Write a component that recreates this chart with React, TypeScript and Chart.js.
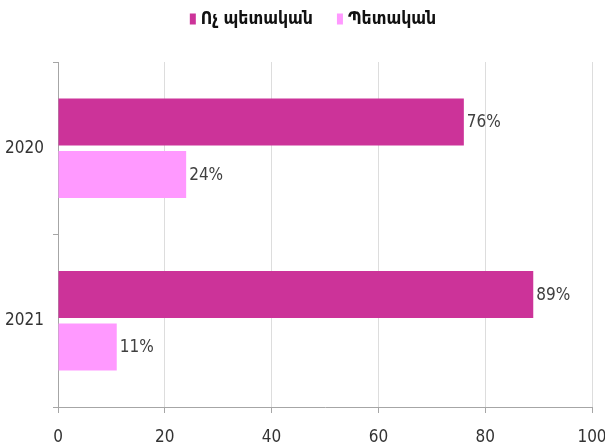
import React, { useEffect, useRef } from "react";
import { Chart, registerables } from "chart.js";

Chart.register(...registerables);

const categories = ["2020", "2021"];
const seriesNames = ["Ոչ պետական", "Պետական"];
const privateValues = [76, 89];
const publicValues = [24, 11];
const xTicks = [0, 20, 40, 60, 80, 100];
const colors = ["#CC3399", "#FF99FF"];

const NUM_FONT = '"Liberation Sans Narrow", "DejaVu Sans Condensed", "Liberation Sans", sans-serif';
const LEG_FONT = '"DejaVu Sans Condensed", "DejaVu Sans", sans-serif';

const labelPlugin = {
  id: "barLabels",
  afterDatasetsDraw(chart: any) {
    const ctx = chart.ctx;
    ctx.save();
    ctx.font = `17px ${NUM_FONT}`;
    ctx.fillStyle = "#404040";
    ctx.textAlign = "left";
    ctx.textBaseline = "middle";
    chart.data.datasets.forEach((ds: any, i: number) => {
      const meta = chart.getDatasetMeta(i);
      meta.data.forEach((bar: any, j: number) => {
        ctx.fillText(`${ds.data[j]}%`, bar.x + 3, bar.y + 1);
      });
    });
    ctx.restore();
  },
};

const legendPlugin = {
  id: "customLegend",
  afterDraw(chart: any) {
    const ctx = chart.ctx;
    ctx.save();
    ctx.font = `bold 17.5px ${LEG_FONT}`;
    ctx.textBaseline = "middle";
    ctx.textAlign = "left";
    const boxW = 6;
    const boxH = 11;
    const gapBox = 5;
    const gapItem = 24;
    const widths = seriesNames.map((n) => ctx.measureText(n).width);
    const total = widths.reduce((a, w) => a + boxW + gapBox + w, 0) + gapItem * (seriesNames.length - 1);
    let x = 313 - total / 2;
    const cy = 19;
    seriesNames.forEach((n, i) => {
      ctx.fillStyle = colors[i];
      ctx.fillRect(x, cy - boxH / 2, boxW, boxH);
      x += boxW + gapBox;
      ctx.fillStyle = "#111111";
      ctx.fillText(n, x, cy);
      x += widths[i] + gapItem;
    });
    ctx.restore();
  },
};

export default function App() {
  const ref = useRef<HTMLCanvasElement>(null);
  useEffect(() => {
    document.body.style.margin = "0";
    const chart = new Chart(ref.current!, {
      type: "bar",
      data: {
        labels: categories,
        datasets: [
          {
            label: seriesNames[0],
            data: privateValues,
            backgroundColor: colors[0],
            categoryPercentage: 0.61,
            barPercentage: 0.895,
          },
          {
            label: seriesNames[1],
            data: publicValues,
            backgroundColor: colors[1],
            categoryPercentage: 0.61,
            barPercentage: 0.895,
          },
        ],
      },
      options: {
        indexAxis: "y",
        responsive: false,
        animation: false,
        layout: { padding: { top: 62, right: 13, left: 0, bottom: 0 } },
        plugins: {
          legend: { display: false },
          tooltip: { enabled: false },
        },
        scales: {
          x: {
            min: 0,
            max: 100,
            afterBuildTicks: (scale: any) => {
              scale.ticks = xTicks.map((v) => ({ value: v }));
            },
            afterFit: (scale: any) => {
              scale.height = 41;
              scale.paddingLeft = 0;
              scale.paddingRight = 0;
            },
            grid: {
              color: "#DDDDDD",
              tickColor: "#A6A6A6",
              tickLength: 6,
              lineWidth: 1,
            },
            border: { color: "#A6A6A6", width: 1 },
            ticks: {
              padding: 14,
              color: "#333333",
              font: { family: NUM_FONT, size: 17 },
              maxRotation: 0,
            },
          },
          y: {
            afterFit: (scale: any) => {
              scale.width = 58;
              scale.paddingTop = 0;
              scale.paddingBottom = 0;
            },
            grid: {
              drawOnChartArea: false,
              tickColor: "#A6A6A6",
              tickLength: 5,
              offset: true,
            },
            border: { color: "#A6A6A6", width: 1 },
            ticks: {
              padding: 9,
              color: "#333333",
              font: { family: NUM_FONT, size: 17 },
            },
          },
        },
      },
      plugins: [labelPlugin, legendPlugin],
    });
    return () => chart.destroy();
  }, []);
  return (
    <div style={{ position: "absolute", left: 0, top: 0, width: 605, height: 448 }}>
      <canvas ref={ref} width={605} height={448} />
    </div>
  );
}
